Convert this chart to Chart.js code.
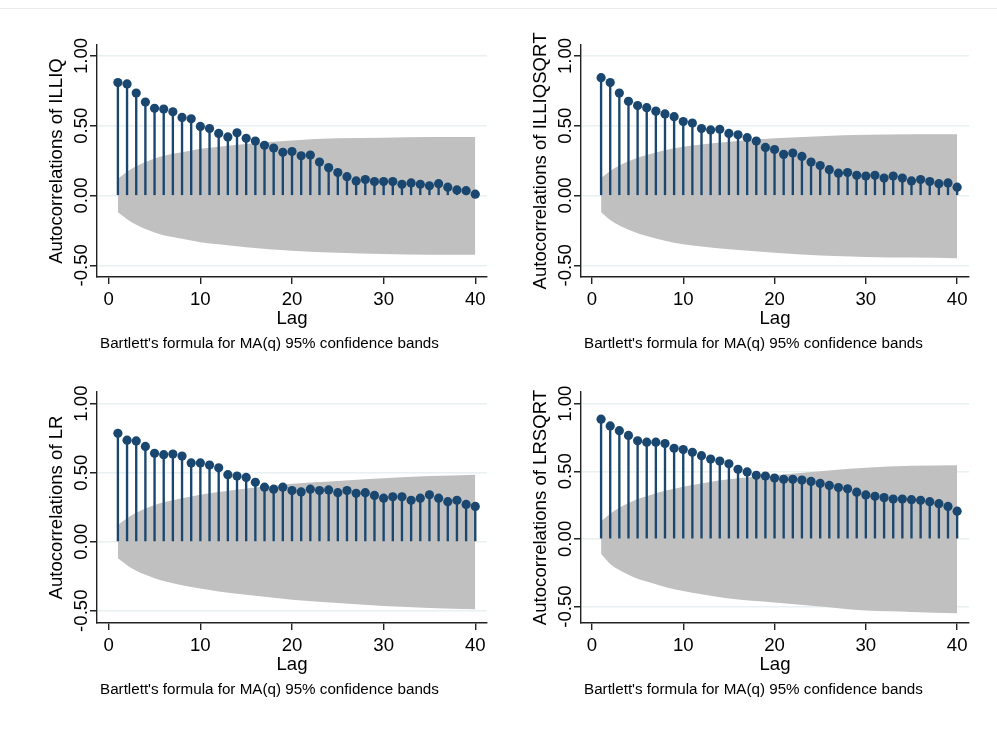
<!DOCTYPE html>
<html>
<head>
<meta charset="utf-8">
<script src="https://cdn.jsdelivr.net/npm/chart.js@4.4.1/dist/chart.umd.min.js"></script>
<style>
  html, body { margin: 0; padding: 0; background: #fff; }
  body { width: 997px; height: 729px; position: relative; overflow: hidden; }
  .topline { position: absolute; left: 0; top: 8px; width: 997px; height: 1px; background: #ececec; }
  canvas { position: absolute; }
</style>
</head>
<body>
<div class="topline"></div>
<canvas id="c1" width="458" height="332" style="left:37px;top:25px"></canvas>
<canvas id="c2" width="456" height="332" style="left:521px;top:25px"></canvas>
<canvas id="c3" width="458" height="331" style="left:37px;top:372px"></canvas>
<canvas id="c4" width="456" height="331" style="left:521px;top:372px"></canvas>
<script>
const lags = [1, 2, 3, 4, 5, 6, 7, 8, 9, 10, 11, 12, 13, 14, 15, 16, 17, 18, 19, 20,
              21, 22, 23, 24, 25, 26, 27, 28, 29, 30, 31, 32, 33, 34, 35, 36, 37, 38, 39, 40];

const acfILLIQ = [0.81, 0.80, 0.735, 0.67, 0.625, 0.62, 0.60, 0.56, 0.55, 0.495,
                  0.48, 0.445, 0.42, 0.45, 0.41, 0.39, 0.36, 0.34, 0.31, 0.315,
                  0.285, 0.29, 0.24, 0.20, 0.165, 0.135, 0.105, 0.115, 0.10, 0.10,
                  0.10, 0.08, 0.09, 0.08, 0.07, 0.085, 0.06, 0.04, 0.035, 0.01];
const acfILLIQSQRT = [0.845, 0.81, 0.735, 0.675, 0.645, 0.63, 0.605, 0.585, 0.565, 0.53,
                      0.52, 0.48, 0.47, 0.475, 0.445, 0.435, 0.415, 0.39, 0.345, 0.33,
                      0.295, 0.305, 0.28, 0.24, 0.215, 0.185, 0.16, 0.165, 0.145, 0.14,
                      0.145, 0.125, 0.14, 0.125, 0.105, 0.115, 0.10, 0.085, 0.09, 0.06];
const acfLR = [0.785, 0.735, 0.73, 0.69, 0.64, 0.63, 0.635, 0.62, 0.57, 0.57,
               0.555, 0.535, 0.485, 0.475, 0.465, 0.43, 0.395, 0.38, 0.395, 0.37,
               0.36, 0.38, 0.37, 0.375, 0.355, 0.37, 0.35, 0.355, 0.335, 0.315,
               0.325, 0.325, 0.30, 0.315, 0.34, 0.315, 0.29, 0.30, 0.27, 0.255];
const acfLRSQRT = [0.885, 0.835, 0.80, 0.765, 0.725, 0.715, 0.715, 0.705, 0.67, 0.66,
                   0.64, 0.615, 0.59, 0.575, 0.555, 0.515, 0.495, 0.47, 0.465, 0.45,
                   0.44, 0.44, 0.435, 0.425, 0.41, 0.395, 0.38, 0.37, 0.345, 0.325,
                   0.315, 0.305, 0.295, 0.295, 0.29, 0.285, 0.275, 0.26, 0.24, 0.205];

// confidence band edges, read at these lags
const bandLags = [1, 2, 3, 4, 5, 6, 8, 10, 12, 15, 20, 25, 30, 35, 40];
const bandILLIQUpper = [0.12, 0.17, 0.21, 0.24, 0.265, 0.285, 0.31, 0.335, 0.35, 0.37, 0.395, 0.41, 0.415, 0.42, 0.42];
const bandILLIQLower = [-0.12, -0.17, -0.21, -0.24, -0.265, -0.285, -0.31, -0.335, -0.35, -0.37, -0.395, -0.41, -0.42, -0.425, -0.425];
const bandILLIQSQRTUpper = [0.125, 0.175, 0.215, 0.245, 0.27, 0.29, 0.325, 0.35, 0.365, 0.385, 0.41, 0.425, 0.435, 0.44, 0.44];
const bandILLIQSQRTLower = [-0.12, -0.175, -0.215, -0.245, -0.27, -0.29, -0.325, -0.35, -0.365, -0.385, -0.41, -0.43, -0.44, -0.445, -0.45];
const bandLRUpper = [0.12, 0.17, 0.21, 0.24, 0.265, 0.285, 0.315, 0.34, 0.36, 0.385, 0.42, 0.44, 0.46, 0.475, 0.485];
const bandLRLower = [-0.12, -0.17, -0.21, -0.24, -0.265, -0.285, -0.315, -0.34, -0.36, -0.385, -0.42, -0.445, -0.465, -0.48, -0.49];
const bandLRSQRTUpper = [0.13, 0.185, 0.23, 0.265, 0.295, 0.315, 0.355, 0.385, 0.41, 0.44, 0.47, 0.50, 0.525, 0.54, 0.545];
const bandLRSQRTLower = [-0.11, -0.185, -0.23, -0.265, -0.295, -0.315, -0.355, -0.385, -0.41, -0.44, -0.47, -0.50, -0.53, -0.54, -0.55];

const xTicks = [0, 10, 20, 30, 40];
const yTicks = [-0.5, 0, 0.5, 1];
const yTickLabels = ['-0.50', '0.00', '0.50', '1.00'];
const noteText = "Bartlett's formula for MA(q) 95% confidence bands";

const navy = '#1a476f';
const bandGray = '#c0c0c0';
const gridColor = '#e9f0f2';
const axisColor = '#222';
const fontFam = '"Liberation Sans", Arial, sans-serif';

// axis labels are drawn here so the y labels can be rotated like Stata does
const stataText = {
  id: 'stataText',
  afterDraw(chart, args, opts) {
    const { ctx, chartArea } = chart;
    const xs = chart.scales.x, ys = chart.scales.y;
    ctx.save();
    ctx.fillStyle = '#000';
    ctx.font = '18.6px ' + fontFam;
    ctx.textAlign = 'center';
    ctx.textBaseline = 'alphabetic';
    xTicks.forEach(v => ctx.fillText(String(v), xs.getPixelForValue(v), chartArea.bottom + 28));
    ctx.fillText('Lag', (chartArea.left + chartArea.right) / 2, chartArea.bottom + 46.5);
    yTicks.forEach((v, i) => {
      ctx.save();
      ctx.translate(chartArea.left - 10.5, ys.getPixelForValue(v));
      ctx.rotate(-Math.PI / 2);
      ctx.fillText(yTickLabels[i], 0, 0);
      ctx.restore();
    });
    ctx.save();
    ctx.translate(chartArea.left - 35.5, (chartArea.top + chartArea.bottom) / 2);
    ctx.rotate(-Math.PI / 2);
    ctx.fillText(opts.ytitle, 0, 0);
    ctx.restore();
    ctx.font = '15.2px ' + fontFam;
    ctx.textAlign = 'left';
    ctx.fillText(noteText, chartArea.left + 3, chartArea.bottom + 70.5);
    ctx.restore();
  }
};

function makePanel(id, ytitle, acf, up, lo, xMin, xMax, yMin, yMax) {
  new Chart(document.getElementById(id), {
    type: 'bar',
    data: {
      datasets: [
        {
          type: 'line',
          data: bandLags.map((l, i) => ({ x: l, y: up[i] })),
          borderWidth: 0,
          borderColor: 'rgba(0,0,0,0)',
          backgroundColor: bandGray,
          pointRadius: 0,
          cubicInterpolationMode: 'monotone',
          fill: '+1',
          order: 3
        },
        {
          type: 'line',
          data: bandLags.map((l, i) => ({ x: l, y: lo[i] })),
          borderWidth: 0,
          borderColor: 'rgba(0,0,0,0)',
          pointRadius: 0,
          cubicInterpolationMode: 'monotone',
          fill: false,
          order: 4
        },
        {
          type: 'bar',
          data: lags.map((l, i) => ({ x: l, y: acf[i] })),
          backgroundColor: navy,
          barThickness: 1.7,
          borderWidth: 0,
          order: 2
        },
        {
          type: 'line',
          data: lags.map((l, i) => ({ x: l, y: acf[i] })),
          showLine: false,
          pointRadius: 4.6,
          pointBackgroundColor: navy,
          pointBorderColor: navy,
          pointBorderWidth: 0,
          order: 1
        }
      ]
    },
    options: {
      responsive: false,
      animation: false,
      devicePixelRatio: 1,
      events: [],
      layout: { padding: { top: 20, right: 8, left: 0, bottom: 0 } },
      plugins: {
        legend: { display: false },
        tooltip: { enabled: false },
        stataText: { ytitle: ytitle }
      },
      scales: {
        x: {
          type: 'linear',
          min: xMin,
          max: xMax,
          offset: false,
          grid: { offset: false, drawOnChartArea: false, drawTicks: true, tickLength: 7, tickColor: axisColor, lineWidth: 1.4 },
          border: { display: true, color: axisColor, width: 1.4 },
          ticks: { display: false },
          afterBuildTicks: s => { s.ticks = xTicks.map(v => ({ value: v })); },
          afterFit: s => { s.height = 80; }
        },
        y: {
          type: 'linear',
          min: yMin,
          max: yMax,
          grid: { color: gridColor, lineWidth: 1.5, drawTicks: true, tickLength: 7, tickColor: axisColor },
          border: { display: true, color: axisColor, width: 1.4 },
          ticks: { display: false },
          afterBuildTicks: s => { s.ticks = yTicks.map(v => ({ value: v })); },
          afterFit: s => { s.width = 60; }
        }
      }
    },
    plugins: [stataText]
  });
}

makePanel('c1', 'Autocorrelations of ILLIQ', acfILLIQ, bandILLIQUpper, bandILLIQLower, -1.28, 41.28, -0.584, 1.079);
makePanel('c2', 'Autocorrelations of ILLIQSQRT', acfILLIQSQRT, bandILLIQSQRTUpper, bandILLIQSQRTLower, -1.2, 41.3, -0.584, 1.079);
makePanel('c3', 'Autocorrelations of LR', acfLR, bandLRUpper, bandLRLower, -1.28, 41.28, -0.589, 1.084);
makePanel('c4', 'Autocorrelations of LRSQRT', acfLRSQRT, bandLRSQRTUpper, bandLRSQRTLower, -1.2, 41.3, -0.622, 1.086);
</script>
</body>
</html>
